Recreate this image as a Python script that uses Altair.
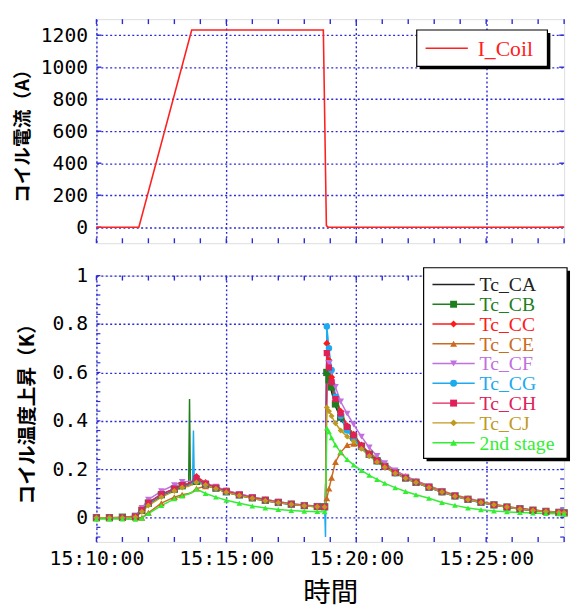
import altair as alt
import pandas as pd

# ---------------- data ----------------
coil_time = ["15:10:00", "15:11:38", "15:13:40", "15:18:44", "15:18:51", "15:18:55", "15:28:00"]
coil_current = [0, 0, 1232, 1232, 10, 0, 0]

temp_time = [
    "15:10:00", "15:10:30", "15:11:00", "15:11:30", "15:11:45", "15:12:00", "15:12:30", "15:13:00", "15:13:18",
    "15:13:33", "15:13:35", "15:13:37", "15:13:42", "15:13:44", "15:13:46",
    "15:13:51", "15:14:12", "15:14:36", "15:15:00", "15:15:30", "15:16:00", "15:16:30", "15:17:00", "15:17:30", "15:18:00", "15:18:30",
    "15:18:47", "15:18:49", "15:18:52", "15:18:57", "15:19:03", "15:19:12", "15:19:24", "15:19:39", "15:19:54",
    "15:20:12", "15:20:30", "15:20:48", "15:21:06", "15:21:30", "15:21:54", "15:22:18", "15:22:48", "15:23:18", "15:23:48",
    "15:24:18", "15:24:48", "15:25:18", "15:25:48", "15:26:18", "15:26:48", "15:27:18", "15:27:48", "15:28:00",
]
no_marker_times = ["15:13:33", "15:13:35", "15:13:37", "15:13:42", "15:13:44", "15:13:46", "15:18:49"]

tc_ca = [0, 0, 0, 0.005, 0.03, 0.055, 0.09, 0.115, 0.13,
         0.135, 0.137, 0.138, 0.14, 0.142, 0.145,
         0.15, 0.135, 0.12, 0.105, 0.092, 0.08, 0.07, 0.062, 0.055, 0.049, 0.045,
         0.044, 0.045, 0.62, 0.57, 0.52, 0.46, 0.41, 0.365, 0.33,
         0.292, 0.26, 0.233, 0.21, 0.185, 0.163, 0.145, 0.125, 0.106, 0.089,
         0.075, 0.063, 0.053, 0.044, 0.036, 0.03, 0.026, 0.022, 0.02]
tc_cb = [0, 0, 0.002, 0.005, 0.03, 0.06, 0.095, 0.118, 0.132,
         0.138, 0.49, 0.14, 0.142, 0.145, 0.148,
         0.15, 0.137, 0.122, 0.107, 0.094, 0.082, 0.072, 0.063, 0.056, 0.05, 0.046,
         0.045, 0.046, 0.6, 0.57, 0.54, 0.47, 0.415, 0.368, 0.333,
         0.295, 0.262, 0.235, 0.212, 0.186, 0.164, 0.146, 0.126, 0.107, 0.09,
         0.076, 0.064, 0.053, 0.044, 0.037, 0.031, 0.026, 0.022, 0.02]
tc_cc = [0, 0, 0, 0.004, 0.03, 0.06, 0.095, 0.12, 0.135,
         0.14, 0.142, 0.145, 0.15, 0.16, 0.175,
         0.17, 0.145, 0.125, 0.11, 0.095, 0.083, 0.073, 0.064, 0.056, 0.05, 0.046,
         0.045, 0.046, 0.72, 0.65, 0.58, 0.5, 0.44, 0.38, 0.345,
         0.3, 0.265, 0.237, 0.213, 0.187, 0.165, 0.147, 0.127, 0.108, 0.09,
         0.076, 0.064, 0.053, 0.044, 0.037, 0.031, 0.026, 0.022, 0.02]
tc_ce = [0, 0, 0, 0, 0, 0.02, 0.06, 0.085, 0.095,
         0.1, 0.1, 0.102, 0.105, 0.108, 0.11,
         0.12, 0.13, 0.125, 0.113, 0.098, 0.086, 0.075, 0.066, 0.058, 0.051, 0.047,
         0.046, 0.046, 0.08, 0.12, 0.165, 0.23, 0.27, 0.3, 0.305,
         0.295, 0.27, 0.245, 0.22, 0.195, 0.172, 0.153, 0.132, 0.112, 0.094,
         0.08, 0.067, 0.056, 0.046, 0.038, 0.032, 0.027, 0.023, 0.021]
tc_cf = [0, 0, 0, 0.008, 0.04, 0.075, 0.11, 0.135, 0.148,
         0.15, 0.15, 0.15, 0.152, 0.153, 0.155,
         0.155, 0.142, 0.128, 0.113, 0.098, 0.086, 0.075, 0.066, 0.058, 0.052, 0.047,
         0.046, 0.047, 0.68, 0.64, 0.6, 0.54, 0.48, 0.43, 0.385,
         0.335, 0.29, 0.255, 0.225, 0.195, 0.17, 0.15, 0.13, 0.11, 0.092,
         0.078, 0.066, 0.055, 0.046, 0.038, 0.032, 0.027, 0.023, 0.021]
tc_cg = [0, 0, 0, 0.005, 0.03, 0.058, 0.093, 0.117, 0.132,
         0.137, 0.138, 0.14, 0.142, 0.36, 0.146,
         0.152, 0.136, 0.121, 0.106, 0.093, 0.081, 0.071, 0.062, 0.055, 0.049, 0.045,
         0.044, -0.08, 0.79, 0.7, 0.61, 0.5, 0.42, 0.36, 0.325,
         0.29, 0.258, 0.232, 0.209, 0.184, 0.162, 0.144, 0.124, 0.105, 0.088,
         0.074, 0.062, 0.052, 0.043, 0.036, 0.03, 0.025, 0.021, 0.019]
tc_ch = [0, 0, 0, 0.005, 0.032, 0.062, 0.097, 0.12, 0.135,
         0.14, 0.142, 0.145, 0.15, 0.155, 0.16,
         0.162, 0.14, 0.124, 0.109, 0.095, 0.083, 0.073, 0.064, 0.056, 0.05, 0.046,
         0.045, 0.046, 0.68, 0.62, 0.56, 0.49, 0.43, 0.375, 0.34,
         0.297, 0.262, 0.235, 0.211, 0.186, 0.164, 0.146, 0.126, 0.107, 0.09,
         0.076, 0.064, 0.053, 0.044, 0.037, 0.031, 0.026, 0.022, 0.02]
tc_cj = [0, 0, 0, 0.003, 0.025, 0.05, 0.085, 0.11, 0.125,
         0.13, 0.132, 0.134, 0.136, 0.138, 0.14,
         0.145, 0.135, 0.12, 0.105, 0.092, 0.08, 0.07, 0.062, 0.055, 0.049, 0.045,
         0.044, 0.045, 0.455, 0.44, 0.42, 0.39, 0.36, 0.335, 0.315,
         0.285, 0.255, 0.23, 0.208, 0.184, 0.163, 0.145, 0.125, 0.106, 0.089,
         0.075, 0.063, 0.053, 0.044, 0.036, 0.03, 0.026, 0.022, 0.02]
second_stage = [-0.005, -0.005, -0.005, -0.007, -0.002, 0.017, 0.05, 0.078, 0.09,
                0.098, 0.1, 0.102, 0.106, 0.11, 0.114,
                0.118, 0.1, 0.085, 0.072, 0.06, 0.048, 0.04, 0.034, 0.03, 0.027, 0.025,
                0.024, 0.025, 0.37, 0.355, 0.33, 0.3, 0.27, 0.24, 0.218,
                0.195, 0.175, 0.158, 0.142, 0.124, 0.108, 0.095, 0.08, 0.063, 0.051,
                0.04, 0.033, 0.028, 0.024, 0.021, 0.019, 0.017, 0.016, 0.016]

series_names = ["Tc_CA", "Tc_CB", "Tc_CC", "Tc_CE", "Tc_CF", "Tc_CG", "Tc_CH", "Tc_CJ", "2nd stage"]
series_values = [tc_ca, tc_cb, tc_cc, tc_ce, tc_cf, tc_cg, tc_ch, tc_cj, second_stage]
series_colors = ["#222222", "#1f7f1f", "#ff1a1a", "#cc6a1e", "#c070e0", "#1eaaee", "#e0205a", "#bf9a1e", "#33ee33"]
marker_shapes = ["square", "diamond", "triangle-up", "triangle-down", "circle", "square", "diamond", "triangle-up"]
marker_sizes = [55, 34, 55, 55, 55, 60, 55, 90]
line_widths = [1.5, 1.5, 1.5, 1.5, 1.5, 1.5, 1.5, 1.5, 4.5]

x_major = [10, 15, 20, 25]
x_minor = list(range(10, 29))
i_ticks = [0, 200, 400, 600, 800, 1000, 1200]
t_major = [0, 0.2, 0.4, 0.6, 0.8, 1.0]
t_minor = [round(-0.08 + 0.04 * k, 2) for k in range(28)]

# ---------------- styling ----------------
BLUE = "#2a2ad8"
RED = "#ff2020"
W = 476
H_TOP = 228
H_BOT = 271
TICK_FONT = "DejaVu Sans Mono"
JP_FONT = "Noto Sans CJK JP"
SERIF = "Liberation Serif"


def to_min(s):
    h, m, sec = (int(p) for p in s.split(":"))
    return (h - 15) * 60 + m + sec / 60.0


coil_df = pd.DataFrame({"m": [to_min(t) for t in coil_time], "I": coil_current})

rows = []
for name, vals in zip(series_names, series_values):
    for t, v in zip(temp_time, vals):
        rows.append({"m": to_min(t), "v": v, "series": name, "mark": t not in no_marker_times})
temp_df = pd.DataFrame(rows)
pts_df = temp_df[(temp_df["mark"]) & (temp_df["series"] != "Tc_CA")]

xscale = alt.Scale(domain=[10, 28], nice=False, zero=False)
yscale_top = alt.Scale(domain=[-100, 1300], nice=False, zero=False)
yscale_bot = alt.Scale(domain=[-0.1, 1.0], nice=False, zero=False)

grid_kw = dict(grid=True, gridColor=BLUE, gridDash=[2, 2.5], gridWidth=1.4, domain=False, ticks=False)

x_axis_top = alt.Axis(values=x_major, labels=False, title=None, **grid_kw)
y_axis_top = alt.Axis(values=i_ticks, format="d", labelFont=TICK_FONT, labelFontSize=20, labelColor="black",
                      labelPadding=9, title="コイル電流（A）", titleFont=JP_FONT, titleFontSize=19,
                      titleFontWeight="bold", titleColor="black", titleX=-75, titleBaseline="middle", **grid_kw)
x_axis_bot = alt.Axis(values=x_major, labelExpr="'15:' + datum.value + ':00'", labelFont=TICK_FONT,
                      labelFontSize=20, labelColor="black", labelPadding=7, labelFlush=False,
                      title="時間", titleFont=JP_FONT, titleFontSize=28, titleFontWeight="normal",
                      titleColor="black", titleY=53, titleBaseline="middle", **grid_kw)
y_axis_bot = alt.Axis(values=t_major, format="~g", labelFont=TICK_FONT, labelFontSize=20,
                      labelColor="black", labelPadding=9, title="コイル温度上昇（K）", titleFont=JP_FONT,
                      titleFontSize=20, titleFontWeight="bold", titleColor="black", titleX=-70,
                      titleBaseline="middle", **grid_kw)


def X(ax):
    return alt.X("m:Q", scale=xscale, axis=ax)


def box_layers(x0, y0, x1, y1):
    one = pd.DataFrame({"k": [0]})
    shadow = alt.Chart(one).mark_rect(color="black").encode(
        x=alt.value(x0 + 3), x2=alt.value(x1 + 3), y=alt.value(y0 + 3), y2=alt.value(y1 + 3))
    box = alt.Chart(one).mark_rect(fill="white", stroke="black", strokeWidth=1.2).encode(
        x=alt.value(x0), x2=alt.value(x1), y=alt.value(y0), y2=alt.value(y1))
    return [shadow, box]


# ---------------- top panel ----------------
xminor_df = pd.DataFrame({"m": x_minor})
itick_df = pd.DataFrame({"I": i_ticks})

top_ticks = [
    alt.Chart(xminor_df).mark_rule(color=BLUE, strokeWidth=1.4).encode(
        x=X(x_axis_top), y=alt.value(H_TOP), y2=alt.value(H_TOP - 5)),
    alt.Chart(xminor_df).mark_rule(color=BLUE, strokeWidth=1.4).encode(
        x=X(x_axis_top), y=alt.value(0), y2=alt.value(5)),
    alt.Chart(itick_df).mark_rule(color=BLUE, strokeWidth=1.4).encode(
        y=alt.Y("I:Q", scale=yscale_top, axis=y_axis_top), x=alt.value(0), x2=alt.value(5)),
    alt.Chart(itick_df).mark_rule(color=BLUE, strokeWidth=1.4).encode(
        y=alt.Y("I:Q", scale=yscale_top, axis=y_axis_top), x=alt.value(W - 5), x2=alt.value(W)),
]

coil_line = alt.Chart(coil_df).mark_line(strokeWidth=1.6, color=RED).encode(
    x=X(x_axis_top),
    y=alt.Y("I:Q", scale=yscale_top, axis=y_axis_top),
)

coil_leg_df = pd.DataFrame({"name": ["I_Coil"]})
top_legend = box_layers(326, 11, 459, 48) + [
    alt.Chart(coil_leg_df).mark_rule(color=RED, strokeWidth=1.6).encode(
        x=alt.value(335), x2=alt.value(378), y=alt.value(29.5)),
    alt.Chart(coil_leg_df).mark_text(align="left", baseline="middle", font=SERIF, fontSize=22, color=RED).encode(
        x=alt.value(388), y=alt.value(30.5), text="name:N"),
]

top = alt.layer(*top_ticks, coil_line, *top_legend).properties(width=W, height=H_TOP)

# ---------------- bottom panel ----------------
tminor_df = pd.DataFrame({"v": t_minor})

bot_ticks = [
    alt.Chart(xminor_df).mark_rule(color=BLUE, strokeWidth=1.4).encode(
        x=X(x_axis_bot), y=alt.value(H_BOT), y2=alt.value(H_BOT - 5)),
    alt.Chart(xminor_df).mark_rule(color=BLUE, strokeWidth=1.4).encode(
        x=X(x_axis_bot), y=alt.value(0), y2=alt.value(5)),
    alt.Chart(tminor_df).mark_rule(color=BLUE, strokeWidth=1.2).encode(
        y=alt.Y("v:Q", scale=yscale_bot, axis=y_axis_bot), x=alt.value(0), x2=alt.value(4)),
    alt.Chart(tminor_df).mark_rule(color=BLUE, strokeWidth=1.2).encode(
        y=alt.Y("v:Q", scale=yscale_bot, axis=y_axis_bot), x=alt.value(W - 4), x2=alt.value(W)),
]

color_scale = alt.Scale(domain=series_names, range=series_colors)
shape_scale = alt.Scale(domain=series_names[1:], range=marker_shapes)
size_scale = alt.Scale(domain=series_names[1:], range=marker_sizes)

temp_lines = alt.Chart(temp_df).mark_line().encode(
    x=X(x_axis_bot),
    y=alt.Y("v:Q", scale=yscale_bot, axis=y_axis_bot),
    color=alt.Color("series:N", scale=color_scale, legend=None, sort=series_names),
    strokeWidth=alt.StrokeWidth("series:N", scale=alt.Scale(domain=series_names, range=line_widths), legend=None),
)
temp_points = alt.Chart(pts_df).mark_point(filled=True, opacity=1).encode(
    x=X(x_axis_bot),
    y=alt.Y("v:Q", scale=yscale_bot, axis=y_axis_bot),
    color=alt.Color("series:N", scale=color_scale, legend=None, sort=series_names),
    shape=alt.Shape("series:N", scale=shape_scale, legend=None),
    size=alt.Size("series:N", scale=size_scale, legend=None),
)

bottom_main = alt.layer(*bot_ticks, temp_lines, temp_points)

# legend drawn from the series names through a point scale of its own
leg_df = pd.DataFrame({"series": series_names})
leg_pts_df = leg_df[leg_df["series"] != "Tc_CA"]
leg_y = alt.Y("series:N", sort=series_names, axis=None,
              scale=alt.Scale(type="point", domain=series_names, range=[9, 170], padding=0))
bottom_legend = alt.layer(*box_layers(333, -8, 479, 186),
    alt.Chart(leg_df).mark_rule(strokeWidth=1.5).encode(
        x=alt.value(342), x2=alt.value(385), y=leg_y,
        color=alt.Color("series:N", scale=color_scale, legend=None)),
    alt.Chart(leg_pts_df).mark_point(filled=True, opacity=1, size=50).encode(
        x=alt.value(363.5), y=leg_y,
        color=alt.Color("series:N", scale=color_scale, legend=None),
        shape=alt.Shape("series:N", scale=shape_scale, legend=None)),
    alt.Chart(leg_df).mark_text(align="left", baseline="middle", font=SERIF, fontSize=20, dy=1).encode(
        x=alt.value(390), y=leg_y, text="series:N",
        color=alt.Color("series:N", scale=color_scale, legend=None)),
)

bottom = alt.layer(bottom_main, bottom_legend).resolve_scale(y="independent").properties(width=W, height=H_BOT)

chart = alt.vconcat(top, bottom, spacing=33, bounds="flush").properties(
    padding={"left": 5, "top": 4, "right": 0, "bottom": 0}
).configure_view(stroke=BLUE, strokeWidth=1.8).configure(background="white")

chart.save("out.html", embed_options={"renderer": "svg", "actions": False})
